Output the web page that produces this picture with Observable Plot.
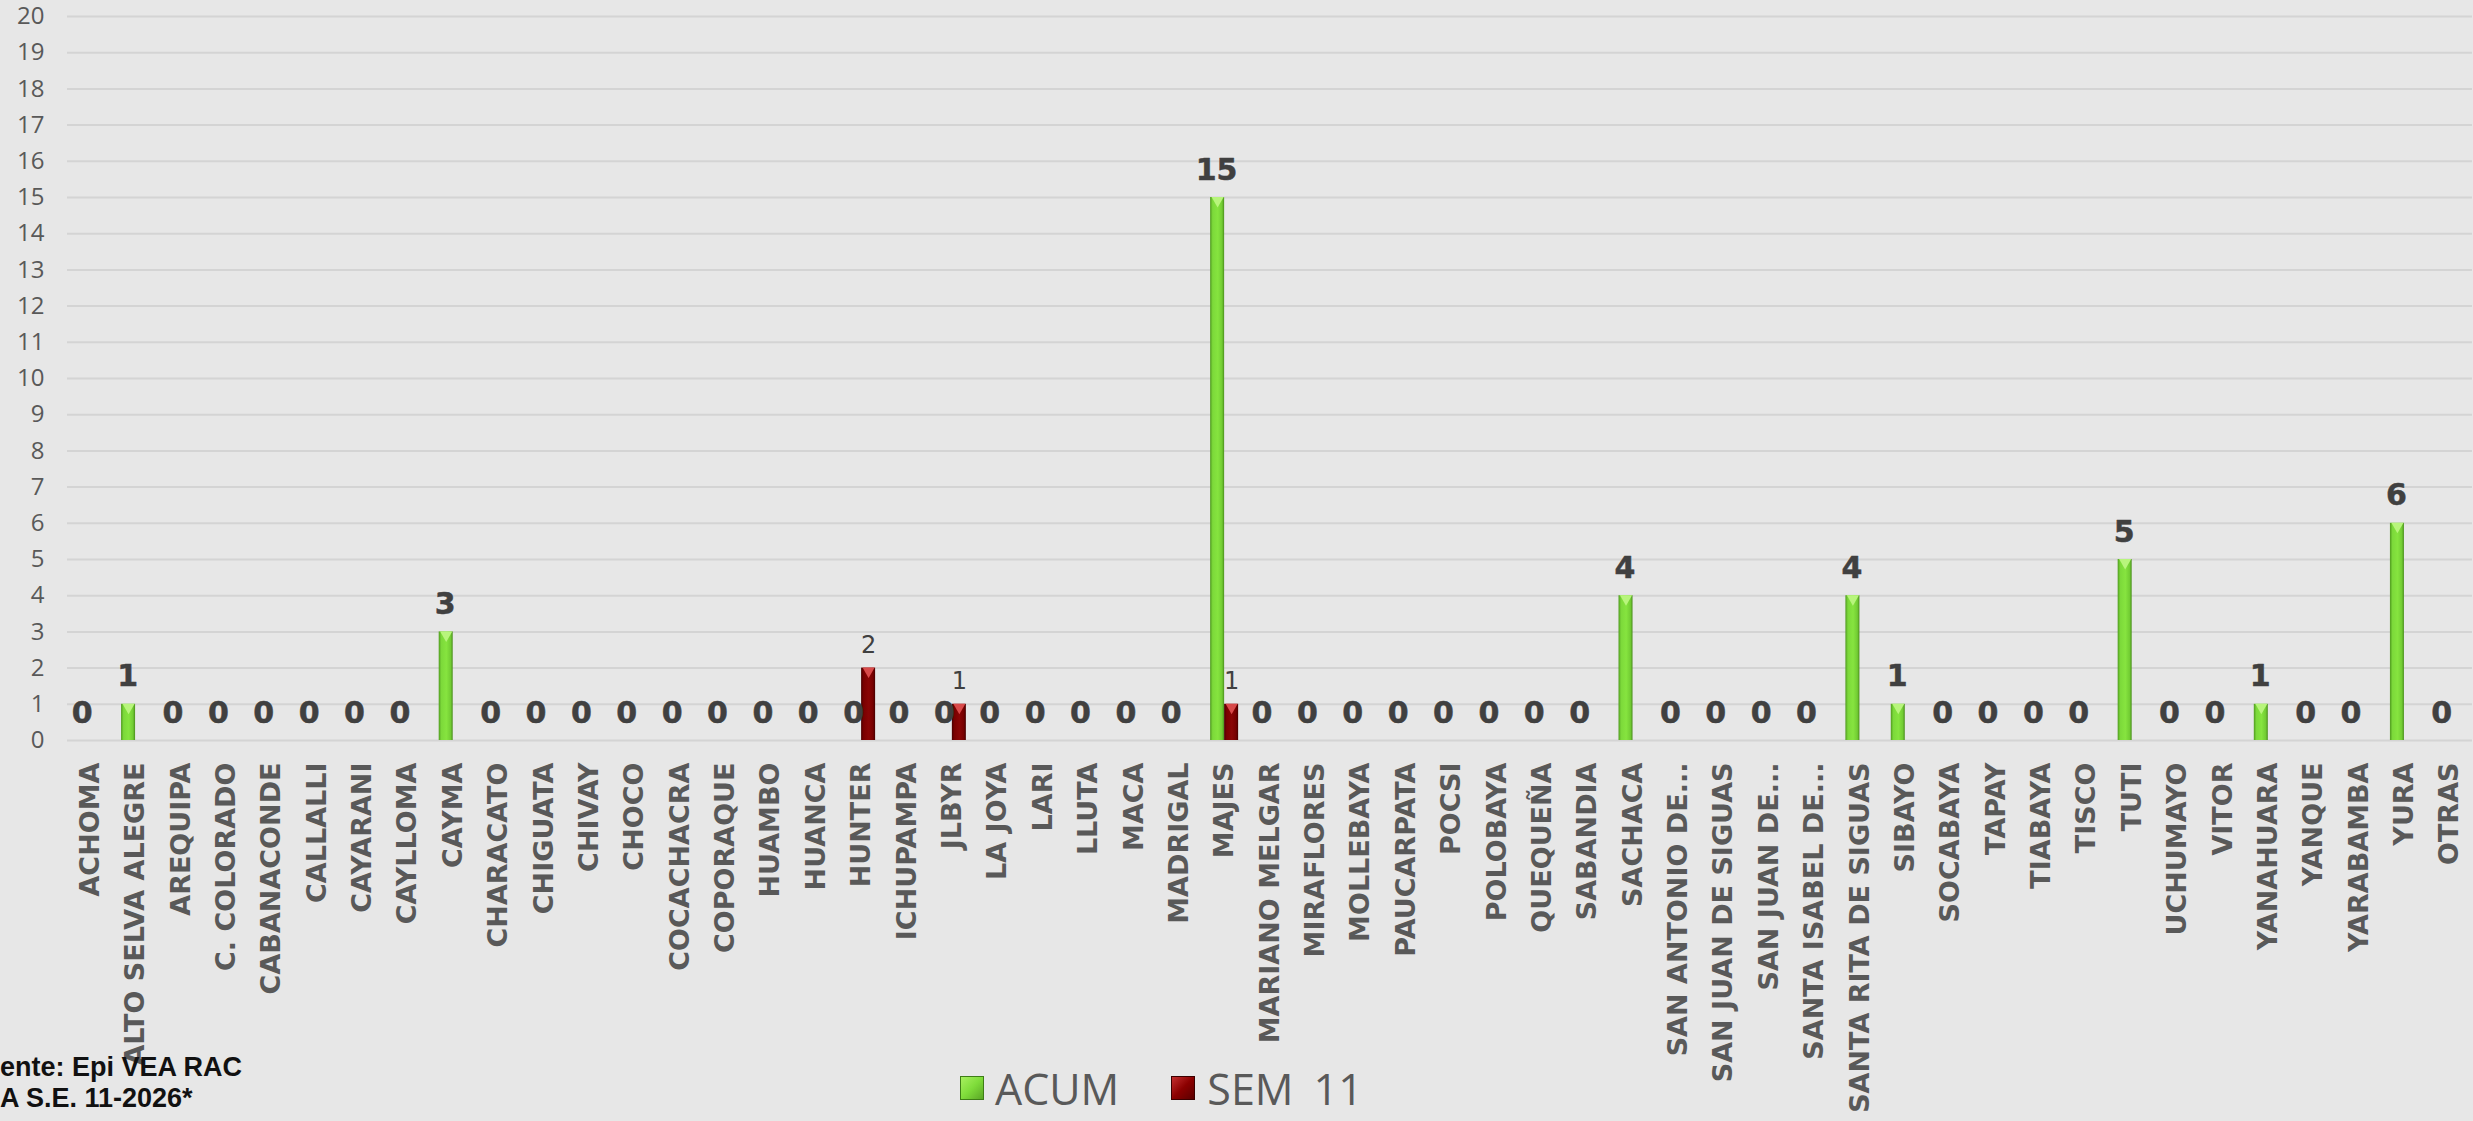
<!DOCTYPE html>
<html>
<head>
<meta charset="utf-8">
<script src="https://cdn.jsdelivr.net/npm/d3@7"></script>
<script src="https://cdn.jsdelivr.net/npm/@observablehq/plot@0.6"></script>
<style>
  html, body { margin: 0; padding: 0; background: #e7e7e7; overflow: hidden; width: 2473px; height: 1121px; }
  #wrap { position: relative; width: 2473px; height: 1121px; background: #e7e7e7; }
  #chart svg { display: block; }
  #legend { position: absolute; left: 960px; top: 1066px; height: 44px; display: flex; align-items: center;
            font-family: "Open Sans", sans-serif; font-size: 43px; color: #595959; line-height: 1; word-spacing: 9px; }
  .sw { width: 24px; height: 24px; box-sizing: border-box; display: inline-block; }
  .sw.g { background: linear-gradient(135deg, #a8f060 0%, #7fdc3a 50%, #5aa726 100%); border: 1px solid #3e7d17; }
  .sw.r { background: linear-gradient(135deg, #c43030 0%, #8b0000 50%, #5a0000 100%); border: 1px solid #3a0000; }
  .foot { position: absolute; left: 0; font-family: "Liberation Sans", Arial, sans-serif; font-weight: bold; font-size: 27px;
          color: #111; white-space: nowrap; line-height: 1; }
</style>
</head>
<body>
<div id="wrap">
  <div id="chart"></div>
  <div id="legend">
    <span class="sw g"></span><span style="margin-left:11px">ACUM</span>
    <span class="sw r" style="margin-left:52px"></span><span style="margin-left:12px">SEM 11</span>
  </div>
  <div class="foot" style="top:1054px;">ente: Epi VEA RAC</div>
  <div class="foot" style="top:1085px;">A S.E. 11-2026*</div>
</div>
<script>
const categories = ["ACHOMA","ALTO SELVA ALEGRE","AREQUIPA","C. COLORADO","CABANACONDE","CALLALLI","CAYARANI","CAYLLOMA","CAYMA","CHARACATO","CHIGUATA","CHIVAY","CHOCO","COCACHACRA","COPORAQUE","HUAMBO","HUANCA","HUNTER","ICHUPAMPA","JLBYR","LA JOYA","LARI","LLUTA","MACA","MADRIGAL","MAJES","MARIANO MELGAR","MIRAFLORES","MOLLEBAYA","PAUCARPATA","POCSI","POLOBAYA","QUEQUEÑA","SABANDIA","SACHACA","SAN ANTONIO DE...","SAN JUAN DE SIGUAS","SAN JUAN DE...","SANTA ISABEL DE...","SANTA RITA DE SIGUAS","SIBAYO","SOCABAYA","TAPAY","TIABAYA","TISCO","TUTI","UCHUMAYO","VITOR","YANAHUARA","YANQUE","YARABAMBA","YURA","OTRAS"];
const acum = [0,1,0,0,0,0,0,0,3,0,0,0,0,0,0,0,0,0,0,0,0,0,0,0,0,15,0,0,0,0,0,0,0,0,4,0,0,0,0,4,1,0,0,0,0,5,0,0,1,0,0,6,0];
const sem11 = [0,0,0,0,0,0,0,0,0,0,0,0,0,0,0,0,0,2,0,1,0,0,0,0,0,1,0,0,0,0,0,0,0,0,0,0,0,0,0,0,0,0,0,0,0,0,0,0,0,0,0,0,0];
const seriesNames = ["ACUM", "SEM 11"];
const yTickValues = [0,1,2,3,4,5,6,7,8,9,10,11,12,13,14,15,16,17,18,19,20];

const table = categories.map((c, i) => ({cat: c, acum: acum[i], sem: sem11[i]}));

const W = 2473, H = 1121, mL = 67, mR = 1, mT = 16, mB = 381;
const band = (W - mL - mR) / categories.length;
const barW = 14;

const chart = Plot.plot({
  width: W, height: H,
  marginLeft: mL, marginRight: mR, marginTop: mT, marginBottom: mB,
  style: {background: "transparent", overflow: "visible"},
  x: {domain: categories, padding: 0, round: false, label: null},
  y: {domain: [0, 20], label: null},
  marks: [
    Plot.gridY(yTickValues, {stroke: "#d4d4d4", strokeOpacity: 1, strokeWidth: 2}),
    Plot.axisY(yTickValues, {tickSize: 0, tickPadding: 23, fontSize: 24, fontFamily: "Open Sans", fill: "#595959", tickFormat: d => String(d), label: null}),
    Plot.axisX({tickSize: 0, tickPadding: 22, tickRotate: -90, fontSize: 27, fontWeight: "bold", fontFamily: "DejaVu Sans", fill: "#595959", stroke: "#595959", strokeWidth: 0.5, label: null}),
    Plot.barY(table, {x: "cat", y: "acum", fill: "url(#gGreen)", insetLeft: band / 2 - barW, insetRight: band / 2, title: d => seriesNames[0]}),
    Plot.barY(table, {x: "cat", y: "sem", fill: "url(#gRed)", insetLeft: band / 2, insetRight: band / 2 - barW, title: d => seriesNames[1]}),
    Plot.dot(table.filter(d => d.acum > 0), {x: "cat", y: "acum", dx: -barW / 2, dy: 3, symbol: "triangle", rotate: 180, r: 4.5, fill: "#b8f57c", stroke: "none"}),
    Plot.dot(table.filter(d => d.sem > 0), {x: "cat", y: "sem", dx: barW / 2, dy: 3, symbol: "triangle", rotate: 180, r: 4.5, fill: "#d84a4a", stroke: "none"}),
    Plot.text(table, {x: "cat", y: "acum", text: d => String(d.acum), dx: -barW / 2 - 1, dy: -18, lineAnchor: "bottom", fontSize: 30, fontWeight: "bold", fontFamily: "DejaVu Sans", fill: "#404040", stroke: "#404040", strokeWidth: 0.5}),
    Plot.text(table.filter(d => d.sem > 0), {x: "cat", y: "sem", text: d => String(d.sem), dx: barW / 2, dy: -15, lineAnchor: "bottom", fontSize: 24, fontFamily: "DejaVu Sans", fill: "#404040"})
  ]
});

const svg = d3.select(chart);
const defs = svg.insert("defs", ":first-child");
const gG = defs.append("linearGradient").attr("id", "gGreen").attr("x1", "0").attr("x2", "1").attr("y1", "0").attr("y2", "0");
[["0%", "#4f9a1f"], ["18%", "#7cd93a"], ["55%", "#86e43f"], ["85%", "#72cc33"], ["100%", "#4a8f1c"]].forEach(([o, c]) => gG.append("stop").attr("offset", o).attr("stop-color", c));
const gR = defs.append("linearGradient").attr("id", "gRed").attr("x1", "0").attr("x2", "1").attr("y1", "0").attr("y2", "0");
[["0%", "#4a0000"], ["18%", "#7a0000"], ["55%", "#8a0505"], ["85%", "#760000"], ["100%", "#450000"]].forEach(([o, c]) => gR.append("stop").attr("offset", o).attr("stop-color", c));

document.getElementById("chart").appendChild(chart);
</script>
</body>
</html>
